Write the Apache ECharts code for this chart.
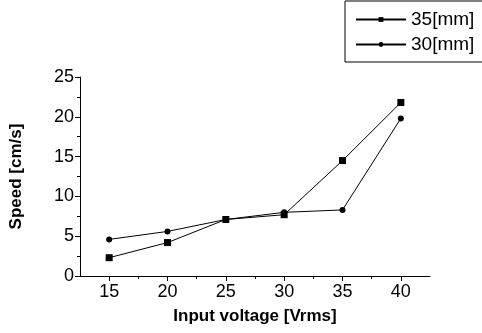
<!DOCTYPE html>
<html>
<head>
<meta charset="utf-8">
<script src="https://cdn.jsdelivr.net/npm/echarts@6/dist/echarts.min.js"></script>
<style>
  html, body { margin: 0; padding: 0; background: #fff; }
  #chart { width: 482px; height: 333px; }
</style>
</head>
<body>
<div id="chart"></div>
<script>
// data
const voltage = [15, 20, 25, 30, 35, 40];
const speed35 = [2.3, 4.2, 7.1, 7.7, 14.5, 21.8];
const speed30 = [4.6, 5.6, 7.1, 8.0, 8.3, 19.8];
const xMajor = [15, 20, 25, 30, 35, 40];
const xMinor = [17.5, 22.5, 27.5, 32.5, 37.5];

const font = 'Liberation Sans, Arial, sans-serif';
const chart = echarts.init(document.getElementById('chart'), undefined, { renderer: 'canvas' });

const pairs = (ys) => voltage.map((x, i) => [x, ys[i]]);

chart.setOption({
  animation: false,
  grid: { left: 80, right: 52, top: 77, bottom: 57 },
  legend: {
    left: 345,
    top: 1,
    orient: 'vertical',
    borderColor: '#000',
    borderWidth: 1,
    padding: [9, 13, 8, 10],
    itemWidth: 50,
    itemHeight: 6,
    itemGap: 6,
    textStyle: { fontFamily: font, fontSize: 19, color: '#000' },
    data: ['35[mm]', '30[mm]']
  },
  xAxis: [
    {
      type: 'value',
      min: 12.5,
      max: 42.5,
      name: 'Input voltage [Vrms]',
      nameLocation: 'middle',
      nameGap: 32,
      nameTextStyle: { fontFamily: font, fontSize: 17, fontWeight: 'bold', color: '#000' },
      axisLine: { show: true, lineStyle: { color: '#000', width: 1 } },
      axisTick: { show: true, length: 5, customValues: xMajor, lineStyle: { color: '#000' } },
      axisLabel: { customValues: xMajor, fontFamily: font, fontSize: 18, color: '#000', margin: 7 },
      splitLine: { show: false }
    },
    {
      // minor ticks only
      type: 'value',
      min: 12.5,
      max: 42.5,
      position: 'bottom',
      axisLine: { show: false },
      axisTick: { show: true, length: 3, customValues: xMinor, lineStyle: { color: '#000' } },
      axisLabel: { show: false },
      splitLine: { show: false }
    }
  ],
  yAxis: {
    type: 'value',
    min: 0,
    max: 25,
    interval: 5,
    name: 'Speed [cm/s]',
    nameLocation: 'middle',
    nameGap: 55,
    nameTextStyle: { fontFamily: font, fontSize: 17, fontWeight: 'bold', color: '#000' },
    axisLine: { show: true, lineStyle: { color: '#000', width: 1 } },
    axisTick: { show: true, length: 5, lineStyle: { color: '#000' } },
    minorTick: { show: true, splitNumber: 2, length: 3, lineStyle: { color: '#000' } },
    axisLabel: { fontFamily: font, fontSize: 18, color: '#000', margin: 6 },
    splitLine: { show: false }
  },
  series: [
    {
      name: '35[mm]',
      type: 'line',
      data: pairs(speed35),
      symbol: 'rect',
      symbolSize: 7,
      itemStyle: { color: '#000' },
      lineStyle: { color: '#000', width: 1 }
    },
    {
      name: '30[mm]',
      type: 'line',
      data: pairs(speed30),
      symbol: 'circle',
      symbolSize: 6,
      itemStyle: { color: '#000' },
      lineStyle: { color: '#000', width: 1 }
    }
  ]
});
</script>
</body>
</html>
